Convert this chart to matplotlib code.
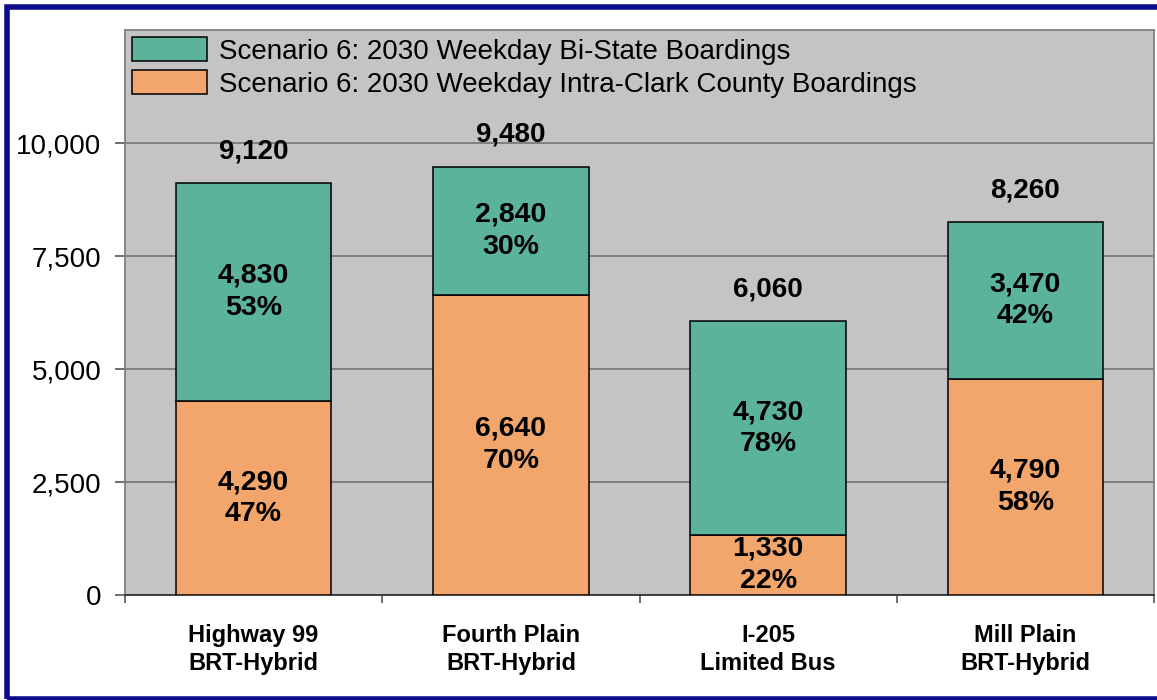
#!/usr/bin/env python3
# stacked boardings by corridor, scenario 6 (2030 weekday)
import matplotlib
matplotlib.use('Agg')
import matplotlib.pyplot as plt
from matplotlib.patches import Rectangle
import numpy as np

plt.rcParams['font.family'] = ['Liberation Sans', 'DejaVu Sans']

# data
corridors = ['Highway 99\nBRT-Hybrid', 'Fourth Plain\nBRT-Hybrid',
             'I-205\nLimited Bus', 'Mill Plain\nBRT-Hybrid']
intra_clark = [4290, 6640, 1330, 4790]
bi_state = [4830, 2840, 4730, 3470]
totals = [9120, 9480, 6060, 8260]
legend_labels = ['Scenario 6: 2030 Weekday Bi-State Boardings',
                 'Scenario 6: 2030 Weekday Intra-Clark County Boardings']
yticks = [0, 2500, 5000, 7500, 10000]

teal = '#5cb39b'
orange = '#f2a66c'

fig = plt.figure(figsize=(11.57, 7.0), dpi=100)
ax = fig.add_axes([0.108, 0.15, 0.8895, 0.807])
ax.set_facecolor('#c4c4c4')

x = np.arange(len(corridors))
w = 0.605
b1 = ax.bar(x, intra_clark, w, color=orange, edgecolor='black', linewidth=1.1,
            zorder=3, label=legend_labels[1])
b2 = ax.bar(x, bi_state, w, bottom=intra_clark, color=teal, edgecolor='black',
            linewidth=1.1, zorder=3, label=legend_labels[0])

# segment labels: value + share of total
for i in range(len(x)):
    tot = intra_clark[i] + bi_state[i]
    ax.text(x[i], intra_clark[i] / 2, f'{intra_clark[i]:,}\n{round(intra_clark[i] / tot * 100)}%',
            ha='center', va='center', fontsize=20.5, fontweight='bold', linespacing=1.3, zorder=4)
    ax.text(x[i], intra_clark[i] + bi_state[i] / 2, f'{bi_state[i]:,}\n{round(bi_state[i] / tot * 100)}%',
            ha='center', va='center', fontsize=20.5, fontweight='bold', linespacing=1.3, zorder=4)
    ax.text(x[i], tot + 700, f'{totals[i]:,}', ha='center', va='center',
            fontsize=20, fontweight='bold', zorder=4)

ax.set_xlim(-0.5, len(x) - 0.5)
ax.set_ylim(0, 12500)
ax.set_yticks(yticks)
ax.set_yticklabels([f'{v:,}' for v in yticks])
ax.yaxis.grid(True, color='#7a7a7a', linewidth=1.3, zorder=1)
ax.set_axisbelow(True)

# category labels sit between boundary ticks
ax.set_xticks(np.arange(len(x) + 1) - 0.5)
ax.set_xticklabels([])
ax.set_xticks(x, minor=True)
ax.set_xticklabels(corridors, minor=True, fontsize=17, fontweight='bold', linespacing=1.25)
ax.tick_params(axis='x', which='minor', length=0, pad=21)
ax.tick_params(axis='x', which='major', length=6, width=1.2, color='#555555')
ax.tick_params(axis='y', length=7, width=1.2, color='#555555', pad=10, labelsize=20)

for s in ['top', 'right', 'left']:
    ax.spines[s].set_color('#808080')
    ax.spines[s].set_linewidth(1.3)
ax.spines['bottom'].set_color('#333333')
ax.spines['bottom'].set_linewidth(1.3)

ax.legend(handles=[b2, b1], labels=legend_labels, loc='upper left',
          bbox_to_anchor=(0.0, 1.0), frameon=False, fontsize=20,
          handlelength=2.7, handleheight=0.95, handletextpad=0.45,
          labelspacing=0.2, borderaxespad=0.1, borderpad=0.15)

# navy frame round the picture (right side cut off in the original)
fig.patches.append(Rectangle((7 / 1157, 1 / 700), 1.2, 692 / 700,
                             transform=fig.transFigure, fill=False,
                             edgecolor='#0b0b8c', linewidth=4))

plt.savefig('out.png', dpi=100)
